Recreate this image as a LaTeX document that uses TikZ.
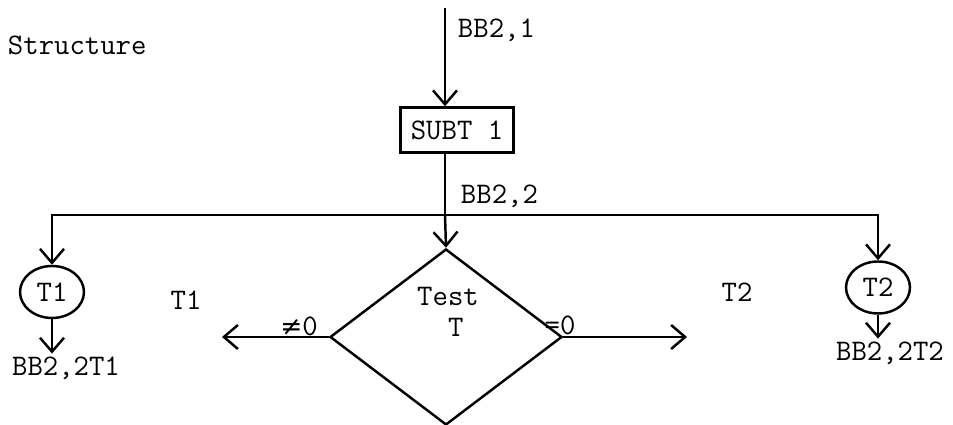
\documentclass[tikz,border=0pt]{standalone}
\usepackage{fontspec}
\newfontfamily\symfont{DejaVu Sans}
\usetikzlibrary{arrows.meta,shapes.geometric}

\begin{document}
\begin{tikzpicture}[font=\ttfamily\fontsize{17}{18}\selectfont\addfontfeatures{FakeBold=0.7},
    line width=1.4pt,
    >={Straight Barb[length=2.8mm,width=4.8mm]},
    box/.style={draw,minimum width=2.26cm,minimum height=0.9cm,inner sep=2pt},
    decision/.style={draw,diamond,minimum width=4.64cm,minimum height=3.52cm,inner sep=0pt},
    term/.style={draw,ellipse,minimum width=1.28cm,minimum height=1.04cm,inner sep=1pt},
    lbl/.style={inner sep=1pt}]
    \useasboundingbox (0,0) rectangle (19.06,8.50);

    \node[lbl,anchor=west] (title) at (0.10,7.60) {Structure};

    \coordinate (in) at (8.90,8.34);
    \node[box] (subt) at (9.14,5.90) {SUBT 1};
    \draw[->] (in) -- (in |- subt.north);
    \node[lbl,anchor=west] (in-label) at (9.10,7.90) {BB2,1};

    \coordinate (split) at (8.90,4.20);
    \draw (in |- subt.south) -- (split);
    \node[lbl,anchor=west] (split-label) at (9.16,4.58) {BB2,2};

    \node[decision] (test) at (8.92,1.76) {};
    \node[lbl,align=left] (test-text) at (8.96,2.26) {Test\\\ \ T};
    \draw[->] (split) -- (test.north);

    \node[term] (t1) at (1.04,2.66) {T1};
    \node[term] (t2) at (17.56,2.75) {T2};
    \draw[->] (split) -| (t1.north);
    \draw[->] (split) -| (t2.north);

    \node[lbl] (t1-out) at (1.32,1.14) {BB2,2T1};
    \draw[->] (t1.south) -- (t1.south |- t1-out.north);
    \node[lbl] (t2-out) at (17.80,1.44) {BB2,2T2};
    \draw[->] (t2.south) -- (t2.south |- t2-out.north);

    % branches of the test
    \coordinate (ne-end) at (4.44,1.76);
    \coordinate (eq-end) at (13.74,1.76);
    \draw[->] (test.west) -- (ne-end);
    \draw[->] (test.east) -- (eq-end);
    \node[lbl] (ne-label) at (5.98,1.98) {{\symfont\fontsize{15}{18}\selectfont ≠}0};
    \node[lbl] (eq-label) at (11.20,2.00) {=0};
    \node[lbl] (t1-tag) at (3.72,2.50) {T1};
    \node[lbl] (t2-tag) at (14.74,2.66) {T2};
\end{tikzpicture}
\end{document}
